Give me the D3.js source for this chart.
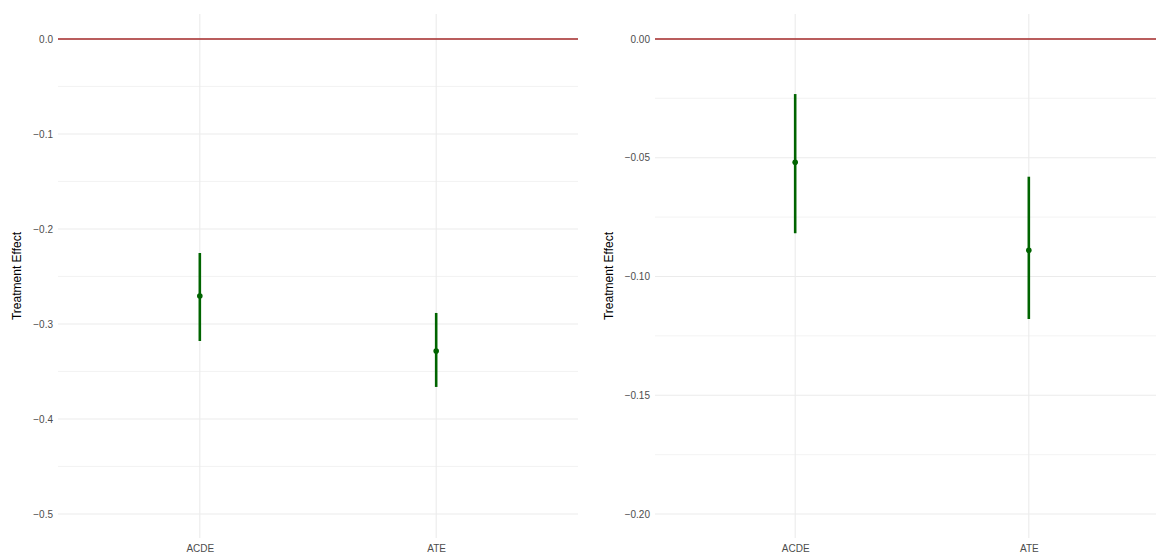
<!DOCTYPE html>
<html>
<head>
<meta charset="utf-8">
<script src="https://cdn.jsdelivr.net/npm/d3@7"></script>
<style>
  body { margin: 0; padding: 0; background: #fff; }
  svg { display: block; font-family: 'Liberation Sans', Arial, sans-serif; }
  .tick text { fill: #4d4d4d; font-size: 10px; }
</style>
</head>
<body>
<svg id="chart" width="1156" height="554"></svg>
<script>
// categories on the x axis
const categories = ['ACDE', 'ATE']

// left panel: estimate and interval ends
const leftEst = [-0.2705, -0.3284]
const leftLow = [-0.3179, -0.3663]
const leftHigh = [-0.2253, -0.2884]
const leftTicks = [0, -0.1, -0.2, -0.3, -0.4, -0.5]
const leftMinor = [-0.05, -0.15, -0.25, -0.35, -0.45]

// right panel
const rightEst = [-0.0519, -0.0890]
const rightLow = [-0.0818, -0.1179]
const rightHigh = [-0.0232, -0.0580]
const rightTicks = [0, -0.05, -0.10, -0.15, -0.20]
const rightMinor = [-0.025, -0.075, -0.125, -0.175]

const svg = d3.select('#chart')
const plotTop = 14, plotBottom = 538

function panel (opts) {
  const x = d3.scalePoint().domain(categories).range(opts.xr).padding(0.6)
  const y = d3.scaleLinear().domain(opts.domain).range([plotBottom, plotTop])
  const g = svg.append('g')

  // grid: minor, major, vertical
  g.selectAll('line.minor').data(opts.minor).enter().append('line')
    .attr('x1', opts.xr[0]).attr('x2', opts.xr[1])
    .attr('y1', d => y(d)).attr('y2', d => y(d))
    .attr('stroke', '#f0f0f0').attr('stroke-width', 0.8)
  g.selectAll('line.major').data(opts.ticks).enter().append('line')
    .attr('x1', opts.xr[0]).attr('x2', opts.xr[1])
    .attr('y1', d => y(d)).attr('y2', d => y(d))
    .attr('stroke', '#ebebeb').attr('stroke-width', 1.1)
  g.selectAll('line.vgrid').data(categories).enter().append('line')
    .attr('x1', d => x(d)).attr('x2', d => x(d))
    .attr('y1', plotTop).attr('y2', plotBottom)
    .attr('stroke', '#ebebeb').attr('stroke-width', 1.1)

  // reference line at zero
  g.append('line')
    .attr('x1', opts.xr[0]).attr('x2', opts.xr[1])
    .attr('y1', y(0)).attr('y2', y(0))
    .attr('stroke', '#a52a2a').attr('stroke-width', 1.6)

  // intervals + points
  g.selectAll('line.ci').data(categories).enter().append('line')
    .attr('x1', d => x(d)).attr('x2', d => x(d))
    .attr('y1', (d, i) => y(opts.low[i])).attr('y2', (d, i) => y(opts.high[i]))
    .attr('stroke', '#006400').attr('stroke-width', 2.6)
  g.selectAll('circle').data(categories).enter().append('circle')
    .attr('cx', d => x(d)).attr('cy', (d, i) => y(opts.est[i]))
    .attr('r', 2.8).attr('fill', '#006400')

  // axes (text only)
  const yAxis = d3.axisLeft(y).tickValues(opts.ticks).tickFormat(d3.format(opts.fmt))
    .tickSize(0).tickPadding(6)
  g.append('g').attr('transform', `translate(${opts.xr[0] + 1},0)`).call(yAxis)
    .call(a => a.select('.domain').remove())

  const xAxis = d3.axisBottom(x).tickSize(0).tickPadding(0)
  g.append('g').attr('transform', 'translate(0,545)').call(xAxis)
    .call(a => a.select('.domain').remove())

  g.append('text')
    .attr('transform', `translate(${opts.titleX},${(plotTop + plotBottom) / 2}) rotate(-90)`)
    .attr('text-anchor', 'middle')
    .attr('font-size', 12).attr('fill', '#000')
    .text('Treatment Effect')
}

panel({
  xr: [58, 578], domain: [-0.5253, 0.0263], ticks: leftTicks, minor: leftMinor,
  est: leftEst, low: leftLow, high: leftHigh, fmt: '.1f', titleX: 21
})
panel({
  xr: [655, 1169], domain: [-0.2101, 0.0105], ticks: rightTicks, minor: rightMinor,
  est: rightEst, low: rightLow, high: rightHigh, fmt: '.2f', titleX: 613
})
</script>
</body>
</html>
